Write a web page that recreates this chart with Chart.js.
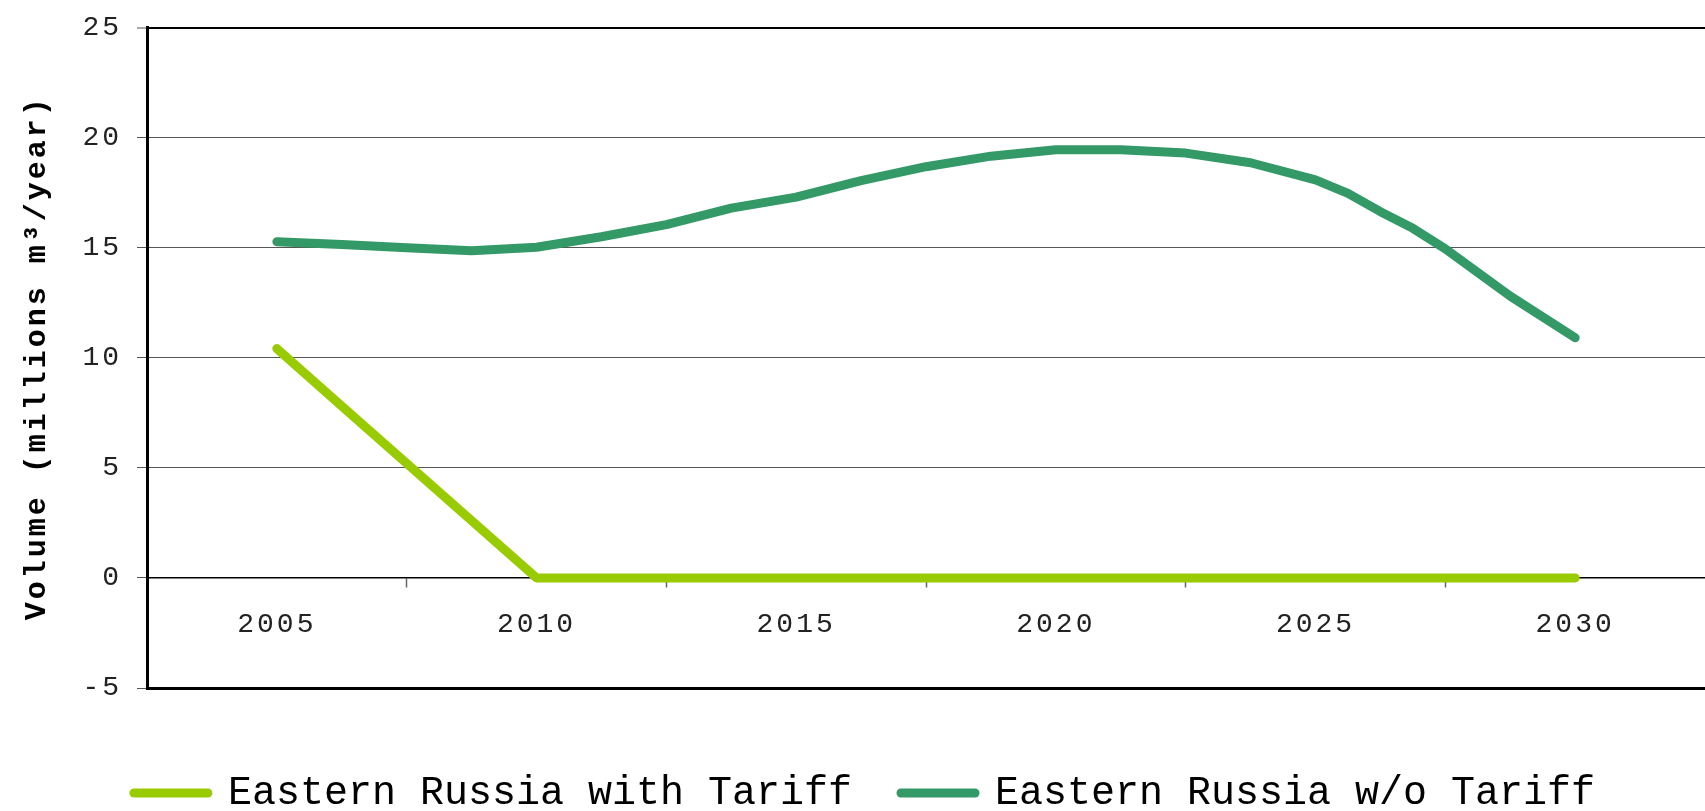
<!DOCTYPE html>
<html lang="en">
<head>
  <meta charset="UTF-8">
  <title>Eastern Russia volume</title>
  <script src="https://cdn.jsdelivr.net/npm/chart.js"></script>
  <style>
    html, body { margin: 0; padding: 0; background: #fff; }
    #wrap { width: 1705px; height: 811px; }
  </style>
</head>
<body>

  <div id="wrap"><canvas id="volumeChart"></canvas></div>

  <script>
    // x positions of the data points (years)
    var years = [2005, 2006.25, 2007.5, 2008.75, 2010, 2011.25, 2012.5, 2013.75, 2015, 2016.25,
                 2017.5, 2018.75, 2020, 2021.25, 2022.5, 2023.75, 2025, 2025.625, 2026.25,
                 2026.875, 2027.5, 2028.75, 2030];

    var withTariff = [10.42, 7.8, 5.2, 2.6, 0, 0, 0, 0, 0, 0,
                      0, 0, 0, 0, 0, 0, 0, 0, 0,
                      0, 0, 0, 0];

    var withoutTariff = [15.27, 15.15, 15.0, 14.86, 15.02, 15.5, 16.05, 16.8, 17.3, 18.05,
                         18.68, 19.16, 19.45, 19.45, 19.3, 18.86, 18.08, 17.47, 16.64,
                         15.88, 14.95, 12.8, 10.91];

    var seriesNames = ['Eastern Russia with Tariff', 'Eastern Russia w/o Tariff'];
    var yearLabels = [2005, 2010, 2015, 2020, 2025, 2030];
    var yTitle = 'Volume (millions m\u00B3/year)';

    function toPoints(values) {
      var pts = [];
      for (var i = 0; i < values.length; i++) {
        pts.push({ x: years[i], y: values[i] });
      }
      return pts;
    }

    // wider letter spacing for axis text, plain spacing for the legend
    var textSpacing = {
      id: 'textSpacing',
      beforeDraw: function(chart) {
        var legend = chart.legend;
        if (legend && !legend._plainText) {
          var drawLegend = legend.draw;
          legend.draw = function() {
            var c = this.ctx;
            c.save();
            c.letterSpacing = '0px';
            drawLegend.apply(this, arguments);
            c.restore();
          };
          legend._plainText = true;
        }
        chart.ctx.letterSpacing = '3px';
      },
      afterDraw: function(chart) {
        chart.ctx.letterSpacing = '0px';
      }
    };

    var ctx = document.getElementById('volumeChart').getContext('2d');

    new Chart(ctx, {
      type: 'line',
      data: {
        datasets: [{
          label: seriesNames[0],
          data: toPoints(withTariff),
          borderColor: '#99CC00',
          backgroundColor: '#99CC00',
          borderWidth: 9,
          borderCapStyle: 'round',
          borderJoinStyle: 'round',
          pointRadius: 0,
          tension: 0
        }, {
          label: seriesNames[1],
          data: toPoints(withoutTariff),
          borderColor: '#339966',
          backgroundColor: '#339966',
          borderWidth: 9,
          borderCapStyle: 'round',
          borderJoinStyle: 'round',
          pointRadius: 0,
          tension: 0
        }]
      },
      options: {
        responsive: true,
        maintainAspectRatio: false,
        animation: false,
        layout: {
          padding: { left: 24, right: 0, top: 0, bottom: -12 }
        },
        plugins: {
          tooltip: { enabled: false },
          legend: {
            position: 'bottom',
            title: {
              display: true,
              text: '',
              padding: 0,
              font: { size: 36, lineHeight: 1 }
            },
            labels: {
              usePointStyle: true,
              pointStyle: 'line',
              pointStyleWidth: 74,
              padding: 49,
              color: '#000',
              font: { family: 'Liberation Mono', size: 40 },
              generateLabels: function(chart) {
                var items = Chart.defaults.plugins.legend.labels.generateLabels(chart);
                items.forEach(function(item) {
                  item.lineCap = 'round';
                  item.lineWidth = 9;
                });
                return items;
              }
            }
          }
        },
        scales: {
          x: {
            type: 'linear',
            position: { y: 0 },
            min: 2002.5,
            max: 2032.5,
            afterBuildTicks: function(scale) {
              scale.ticks = yearLabels.map(function(v) { return { value: v }; });
            },
            ticks: {
              autoSkip: false,
              maxRotation: 0,
              padding: 21,
              color: '#222',
              font: { family: 'Liberation Mono', size: 28 },
              callback: function(v) { return String(v); }
            },
            grid: {
              offset: true,
              drawOnChartArea: false,
              drawTicks: true,
              tickLength: 9,
              tickWidth: 1.5,
              tickColor: function(c) {
                return (c.index >= 1 && c.index <= 5) ? '#666' : 'rgba(0,0,0,0)';
              }
            },
            border: { display: true, color: '#000', width: 1.5 }
          },
          y: {
            min: -5,
            max: 25,
            afterFit: function(scale) { scale.width = 123; },
            ticks: {
              stepSize: 5,
              padding: 15,
              color: '#222',
              font: { family: 'Liberation Mono', size: 28, lineHeight: 0.9 }
            },
            grid: {
              drawTicks: true,
              tickLength: 10,
              tickWidth: 1,
              tickColor: '#555',
              color: function(c) {
                var v = c.tick ? c.tick.value : null;
                return (v === 25 || v === -5 || v === 0) ? '#000' : '#555';
              },
              lineWidth: function(c) {
                var v = c.tick ? c.tick.value : null;
                if (v === -5) return 3;
                if (v === 25) return 2;
                return 1;
              }
            },
            border: { display: true, color: '#000', width: 3 },
            title: {
              display: true,
              text: yTitle,
              color: '#000',
              padding: { top: -2, bottom: 0 },
              font: { family: 'Liberation Mono', size: 30, weight: 'bold', lineHeight: 1 }
            }
          }
        }
      },
      plugins: [textSpacing]
    });
  </script>

</body>
</html>
